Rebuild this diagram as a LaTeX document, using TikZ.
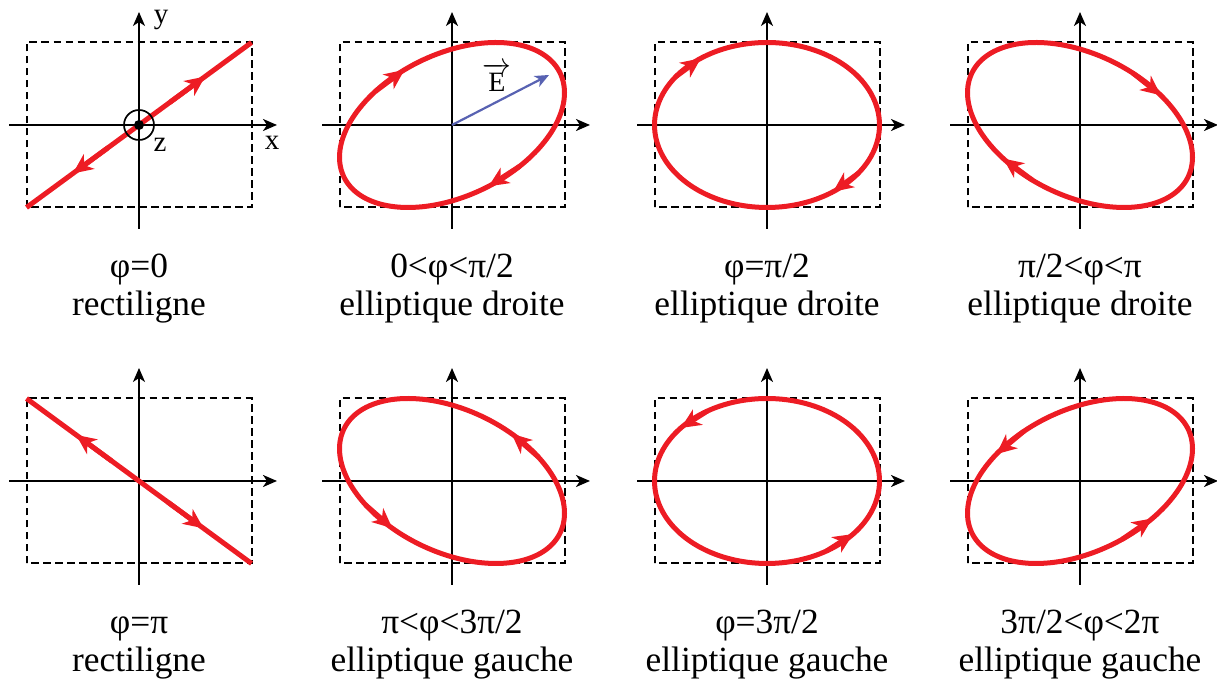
\documentclass[tikz,border=0pt]{standalone}
\usepackage{amsmath}
\usepackage{fontspec}
\setmainfont{Liberation Serif}
\usetikzlibrary{arrows.meta}
\definecolor{wavered}{RGB}{237,28,36}
\definecolor{vecblue}{RGB}{88,98,178}

\begin{document}
\begin{tikzpicture}[
  x=0.5pt, y=0.5pt,
  declare function={ex(\t)=112.5*cos(\t); ey(\t,\p)=82.5*cos(\t+\p);},
  frame/.style={dash pattern=on 3.6pt off 2.4pt, line width=1pt},
  axis/.style={-{Stealth[length=7pt,width=6pt,inset=2pt]}, line width=1.1pt},
  wave/.style={wavered, line width=2.5pt, line join=round},
  sense/.style={wavered, line width=2.5pt, -{Stealth[length=10pt,width=9pt,inset=3pt]}},
  vector/.style={vecblue, line width=1.1pt, -{Stealth[length=7pt,width=6pt,inset=2pt]}},
  caption/.style={anchor=base, font=\fontsize{17.7}{19}\selectfont},
  axlabel/.style={font=\fontsize{14.5}{16}\selectfont}
]
\useasboundingbox (0,0) rectangle (1217,684);

% frames and axes
\foreach \cx/\cy [count=\i] in {139/559, 452/559, 767/559, 1080/559, 139/203, 452/203, 767/203, 1080/203} {
  \coordinate (O\i) at (\cx,\cy);
  \begin{scope}[shift={(O\i)}]
    \draw[frame] (-112.5,-82.5) rectangle (112.5,82.5);
    \draw[axis] (-130,0) -- (138,0);
    \draw[axis] (0,-104) -- (0,113);
  \end{scope}
}

% phi = 0
\begin{scope}[shift={(O1)}]
  \draw[wave] plot[domain=0:180, samples=2] ({ex(\x)},{ey(\x,0)});
  \draw[sense] plot[domain=106:126, samples=2] ({ex(\x)},{ey(\x,0)});
  \draw[sense] plot[domain=286:306, samples=2] ({ex(\x)},{ey(\x,0)});
  \draw[line width=0.85pt] (0,0) circle (15);
  \fill (0,0) circle (5);
  \node[axlabel] (ylbl) at (22,105) {y};
  \node[axlabel] (xlbl) at (133,-18) {x};
  \node[axlabel] (zlbl) at (21,-20) {z};
\end{scope}

% 0 < phi < pi/2
\begin{scope}[shift={(O2)}]
  \draw[wave] plot[domain=0:360, samples=145] ({ex(\x)},{ey(\x,67)}) -- cycle;
  \draw[sense] plot[domain=53:71, samples=2] ({ex(\x)},{ey(\x,67)});
  \draw[sense] plot[domain=227:245, samples=2] ({ex(\x)},{ey(\x,67)});
  \coordinate (Etip) at (97,50);
  \draw[vector] (0,0) -- (Etip);
  \node[font=\fontsize{14}{16}\selectfont] (Elbl) at (45,48) {$\overrightarrow{\text{E}}$};
\end{scope}

% phi = pi/2
\begin{scope}[shift={(O3)}]
  \draw[wave] plot[domain=0:360, samples=145] ({ex(\x)},{ey(\x,90)}) -- cycle;
  \draw[sense] plot[domain=36:54, samples=2] ({ex(\x)},{ey(\x,90)});
  \draw[sense] plot[domain=216:234, samples=2] ({ex(\x)},{ey(\x,90)});
\end{scope}

% pi/2 < phi < pi
\begin{scope}[shift={(O4)}]
  \draw[wave] plot[domain=0:360, samples=145] ({ex(\x)},{ey(\x,113)}) -- cycle;
  \draw[sense] plot[domain=115:133, samples=2] ({ex(\x)},{ey(\x,113)});
  \draw[sense] plot[domain=298:316, samples=2] ({ex(\x)},{ey(\x,113)});
\end{scope}

% phi = pi
\begin{scope}[shift={(O5)}]
  \draw[wave] plot[domain=0:180, samples=2] ({ex(\x)},{ey(\x,180)});
  \draw[sense] plot[domain=104:124, samples=2] ({ex(\x)},{ey(\x,180)});
  \draw[sense] plot[domain=285:305, samples=2] ({ex(\x)},{ey(\x,180)});
\end{scope}

% pi < phi < 3pi/2
\begin{scope}[shift={(O6)}]
  \draw[wave] plot[domain=0:360, samples=145] ({ex(\x)},{ey(\x,247)}) -- cycle;
  \draw[sense] plot[domain=40:58, samples=2] ({ex(\x)},{ey(\x,247)});
  \draw[sense] plot[domain=220:238, samples=2] ({ex(\x)},{ey(\x,247)});
\end{scope}

% phi = 3pi/2
\begin{scope}[shift={(O7)}]
  \draw[wave] plot[domain=0:360, samples=145] ({ex(\x)},{ey(\x,270)}) -- cycle;
  \draw[sense] plot[domain=122:140, samples=2] ({ex(\x)},{ey(\x,270)});
  \draw[sense] plot[domain=302:320, samples=2] ({ex(\x)},{ey(\x,270)});
\end{scope}

% 3pi/2 < phi < 2pi
\begin{scope}[shift={(O8)}]
  \draw[wave] plot[domain=0:360, samples=145] ({ex(\x)},{ey(\x,293)}) -- cycle;
  \draw[sense] plot[domain=120:138, samples=2] ({ex(\x)},{ey(\x,293)});
  \draw[sense] plot[domain=292:310, samples=2] ({ex(\x)},{ey(\x,293)});
\end{scope}

% captions
\node[caption] (c1a) at (139,406) {φ=0};
\node[caption] (c1b) at (139,368) {rectiligne};
\node[caption] (c2a) at (452,406) {0<φ<π/2};
\node[caption] (c2b) at (452,368) {elliptique droite};
\node[caption] (c3a) at (767,406) {φ=π/2};
\node[caption] (c3b) at (767,368) {elliptique droite};
\node[caption] (c4a) at (1080,406) {π/2<φ<π};
\node[caption] (c4b) at (1080,368) {elliptique droite};
\node[caption] (c5a) at (139,50) {φ=π};
\node[caption] (c5b) at (139,12) {rectiligne};
\node[caption] (c6a) at (452,50) {π<φ<3π/2};
\node[caption] (c6b) at (452,12) {elliptique gauche};
\node[caption] (c7a) at (767,50) {φ=3π/2};
\node[caption] (c7b) at (767,12) {elliptique gauche};
\node[caption] (c8a) at (1080,50) {3π/2<φ<2π};
\node[caption] (c8b) at (1080,12) {elliptique gauche};
\end{tikzpicture}
\end{document}
